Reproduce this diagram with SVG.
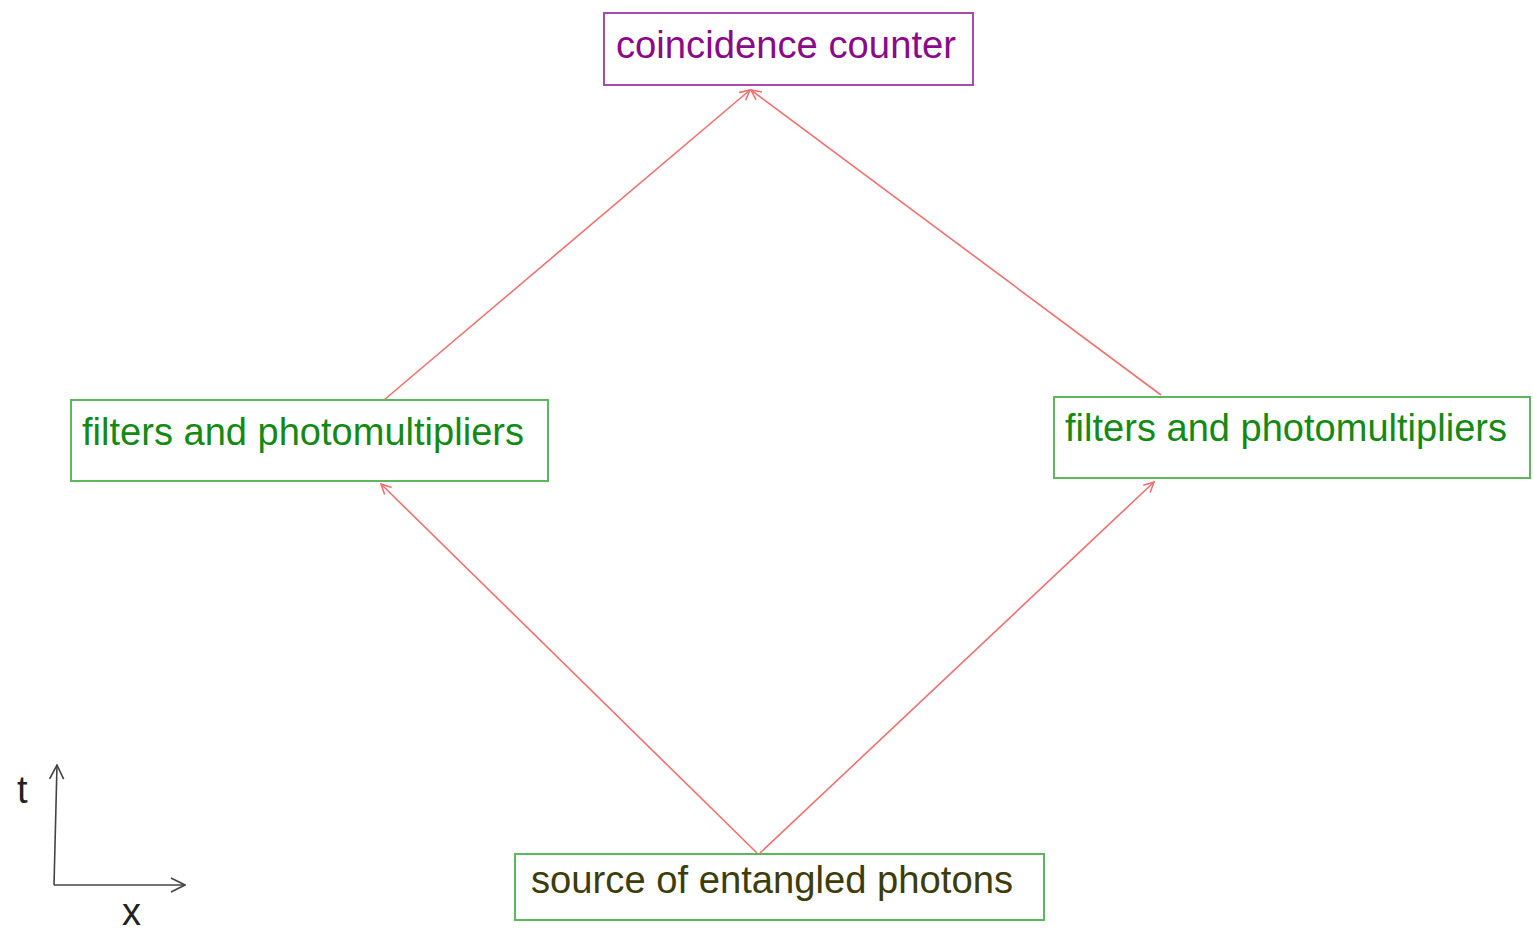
<svg xmlns="http://www.w3.org/2000/svg" width="1533" height="932" viewBox="0 0 1533 932">
<style>
.box{fill:#fff;stroke-width:2}
.g{stroke:#5cb85c}
.p{stroke:#a64ca6}
.lbl{font-family:"Liberation Sans",Arial,sans-serif;font-size:38px}
.conn{stroke:#f07070;stroke-width:1.6;fill:none;marker-end:url(#ah)}
.axis{stroke:#444;stroke-width:1.6;fill:none;marker-end:url(#ax)}
</style>
<defs>
<marker id="ah" viewBox="0 0 12 12" refX="11" refY="6" markerWidth="12" markerHeight="12" markerUnits="userSpaceOnUse" orient="auto">
<path d="M1,1 L11,6 L1,11" fill="none" stroke="#f07070" stroke-width="1.6"/>
</marker>
<marker id="ax" viewBox="0 0 16 16" refX="15" refY="8" markerWidth="16" markerHeight="16" markerUnits="userSpaceOnUse" orient="auto">
<path d="M1,1 L15,8 L1,15" fill="none" stroke="#444" stroke-width="1.6"/>
</marker>
</defs>
<rect width="1533" height="932" fill="#fff"/>
<g id="connectors">
<line class="conn" x1="757" y1="853" x2="381" y2="484"/>
<line class="conn" x1="760" y1="853" x2="1154" y2="482"/>
<line class="conn" x1="384" y1="400" x2="750" y2="90"/>
<line class="conn" x1="1161" y1="395" x2="751" y2="90"/>
</g>
<g id="coincidence-counter">
<rect class="box p" x="604" y="13" width="369" height="72"/>
<text class="lbl" x="616" y="58" fill="#8a0a8a" textLength="340" lengthAdjust="spacingAndGlyphs">coincidence counter</text>
</g>
<g id="filters-left">
<rect class="box g" x="71" y="400" width="477" height="81"/>
<text class="lbl" x="82" y="445" fill="#138a13" textLength="442" lengthAdjust="spacingAndGlyphs">filters and photomultipliers</text>
</g>
<g id="filters-right">
<rect class="box g" x="1054" y="397" width="476" height="81"/>
<text class="lbl" x="1065" y="441" fill="#138a13" textLength="442" lengthAdjust="spacingAndGlyphs">filters and photomultipliers</text>
</g>
<g id="source">
<rect class="box g" x="515" y="854" width="529" height="66"/>
<text class="lbl" x="531" y="893" fill="#3d3d0a" textLength="482" lengthAdjust="spacingAndGlyphs">source of entangled photons</text>
</g>
<g id="axes">
<line class="axis" x1="54" y1="885" x2="57" y2="765"/>
<line class="axis" x1="54" y1="885" x2="185" y2="885"/>
<text class="lbl" x="17" y="803" fill="#222" font-size="34">t</text>
<text class="lbl" x="122" y="925" fill="#222" font-size="34">x</text>
</g>
</svg>
